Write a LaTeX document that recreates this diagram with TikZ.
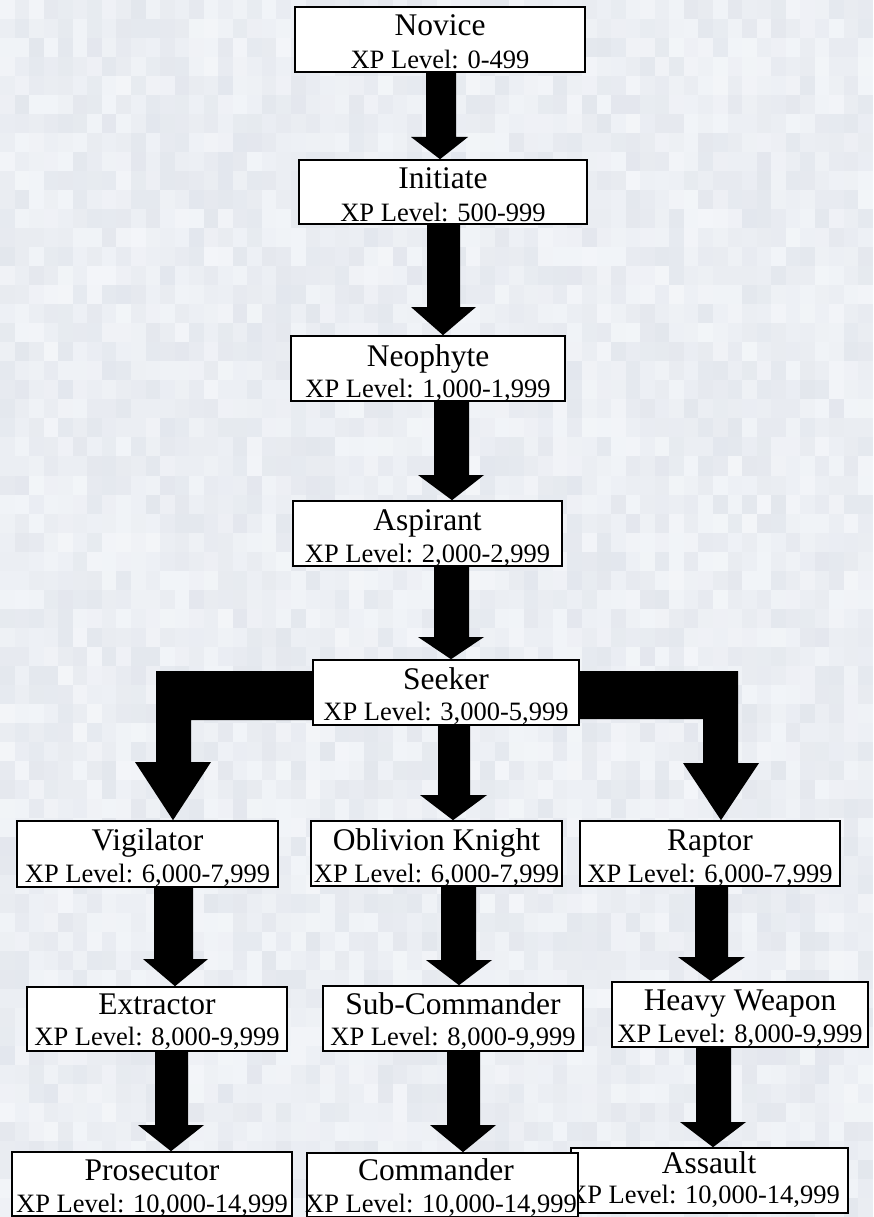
\documentclass[tikz,border=0pt]{standalone}
\usepackage{fontspec}
\setmainfont{Liberation Serif}
\usetikzlibrary{calc}
\definecolor{bgdark}{RGB}{224,228,235}
\definecolor{bglight}{RGB}{246,248,251}
\tikzset{
  rbox/.style={draw=black, fill=white, line width=1.6pt, inner sep=0pt, rectangle},
  ttl/.style={anchor=base, inner sep=0pt, font=\fontsize{31.5pt}{34pt}\selectfont},
  xpl/.style={anchor=base, inner sep=0pt, font=\fontsize{26.5pt}{29pt}\selectfont},
  arrowfill/.style={fill=black}
}
% #1 from, #2 to, #3 shaft left, #4 shaft right, #5 head left, #6 head right, #7 head start y (px), #8 tip x
\newcommand\blockarrow[8]{%
  \fill[arrowfill] let \p1=(#1.south), \p2=(#2.north) in
    (#3pt,\y1) -- (#4pt,\y1) -- (#4pt,-#7pt) -- (#6pt,-#7pt) -- (#8pt,\y2)
    -- (#5pt,-#7pt) -- (#3pt,-#7pt) -- cycle;
}
\begin{document}
\begin{tikzpicture}[x=1pt,y=-1pt]
\useasboundingbox (0,0) rectangle (873,1217);
% pixelated background
\begin{scope}
\clip (0,0) rectangle (873,1217);
\fill[bgdark!50!bglight] (0,0) rectangle (873,1217);
\pgfmathsetseed{7}
\foreach \i in {0,...,59}{
  \foreach \j in {0,...,63}{
    \pgfmathrandominteger{\bgmix}{15}{85}
    \fill[bgdark!\bgmix!bglight] (\i*14.55,\j*19.02) rectangle ++(14.7,19.2);
  }
}
\end{scope}

% boxes
\node[rbox, minimum width=290pt, minimum height=65pt] (novice) at (440,39.5) {};
\node[ttl] (novice-t) at (440,36) {Novice};
\node[xpl] (novice-x) at (440,69) {XP Level: 0-499};

\node[rbox, minimum width=288pt, minimum height=64pt] (initiate) at (443,192) {};
\node[ttl] (initiate-t) at (443,189) {Initiate};
\node[xpl] (initiate-x) at (443,221) {XP Level: 500-999};

\node[rbox, minimum width=274pt, minimum height=65pt] (neophyte) at (428,368.5) {};
\node[ttl] (neophyte-t) at (428,366) {Neophyte};
\node[xpl] (neophyte-x) at (428,397) {XP Level: 1,000-1,999};

\node[rbox, minimum width=269pt, minimum height=65pt] (aspirant) at (427.5,533.5) {};
\node[ttl] (aspirant-t) at (427.5,530) {Aspirant};
\node[xpl] (aspirant-x) at (427.5,562) {XP Level: 2,000-2,999};

\node[rbox, minimum width=266pt, minimum height=65pt] (seeker) at (446,692.5) {};
\node[ttl] (seeker-t) at (446,689) {Seeker};
\node[xpl] (seeker-x) at (446,720) {XP Level: 3,000-5,999};

\node[rbox, minimum width=261pt, minimum height=66pt] (vigilator) at (147.5,854) {};
\node[ttl] (vigilator-t) at (147.5,850) {Vigilator};
\node[xpl] (vigilator-x) at (147.5,882) {XP Level: 6,000-7,999};

\node[rbox, minimum width=251pt, minimum height=65pt] (oblivion) at (436.5,853.5) {};
\node[ttl] (oblivion-t) at (436.5,850) {Oblivion Knight};
\node[xpl] (oblivion-x) at (436.5,882) {XP Level: 6,000-7,999};

\node[rbox, minimum width=260pt, minimum height=65pt] (raptor) at (710,853.5) {};
\node[ttl] (raptor-t) at (710,850) {Raptor};
\node[xpl] (raptor-x) at (710,882) {XP Level: 6,000-7,999};

\node[rbox, minimum width=260pt, minimum height=64pt] (extractor) at (157,1019) {};
\node[ttl] (extractor-t) at (157,1014) {Extractor};
\node[xpl] (extractor-x) at (157,1045) {XP Level: 8,000-9,999};

\node[rbox, minimum width=260pt, minimum height=65pt] (subcmd) at (453,1018.5) {};
\node[ttl] (subcmd-t) at (453,1014) {Sub-Commander};
\node[xpl] (subcmd-x) at (453,1045) {XP Level: 8,000-9,999};

\node[rbox, minimum width=256pt, minimum height=65pt] (heavy) at (740,1014.5) {};
\node[ttl] (heavy-t) at (740,1010) {Heavy Weapon};
\node[xpl] (heavy-x) at (740,1042) {XP Level: 8,000-9,999};

\node[rbox, minimum width=280pt, minimum height=64pt] (prosecutor) at (152,1184) {};
\node[ttl] (prosecutor-t) at (152,1180) {Prosecutor};
\node[xpl] (prosecutor-x) at (152,1212) {XP Level: 10,000-14,999};

\node[rbox, minimum width=277pt, minimum height=65pt] (assault) at (709.5,1180.5) {};
\node[ttl] (assault-t) at (709,1173) {Assault};
\node[xpl] (assault-x) at (704,1203) {XP Level: 10,000-14,999};

\node[rbox, minimum width=271pt, minimum height=64pt] (commander) at (442.5,1185) {};
\node[ttl] (commander-t) at (436,1180) {Commander};
\node[xpl] (commander-x) at (441,1212) {XP Level: 10,000-14,999};

% straight block arrows
\blockarrow{novice}{initiate}{426}{456}{411}{468}{137}{440}
\blockarrow{initiate}{neophyte}{427}{460}{411}{476}{307}{443}
\blockarrow{neophyte}{aspirant}{434}{469}{418}{484}{475}{452}
\blockarrow{aspirant}{seeker}{434}{469}{418}{484}{637}{451}
\blockarrow{seeker}{oblivion}{438}{470}{420}{487}{795}{453}
\blockarrow{vigilator}{extractor}{154}{193}{143}{208}{959}{175}
\blockarrow{oblivion}{subcmd}{441}{476}{426}{492}{960}{459}
\blockarrow{raptor}{heavy}{695}{728}{678}{745}{957}{711}
\blockarrow{extractor}{prosecutor}{155}{188}{138}{204}{1125}{171}
\blockarrow{subcmd}{commander}{447}{480}{430}{496}{1125}{463}
\blockarrow{heavy}{assault}{696}{731}{680}{746}{1122}{713}

% elbow block arrows from Seeker
\fill[arrowfill] let \p1=(seeker.west), \p2=(vigilator.north) in
  (\x1,-671pt) -- (156pt,-671pt) -- (156pt,-762pt) -- (135pt,-762pt) -- (173pt,\y2)
  -- (211pt,-762pt) -- (191pt,-762pt) -- (191pt,-720pt) -- (\x1,-720pt) -- cycle;
\fill[arrowfill] let \p1=(seeker.east), \p2=(raptor.north) in
  (\x1,-671pt) -- (738pt,-671pt) -- (738pt,-763pt) -- (759pt,-763pt) -- (721pt,\y2)
  -- (683pt,-763pt) -- (703pt,-763pt) -- (703pt,-719pt) -- (\x1,-719pt) -- cycle;
\end{tikzpicture}
\end{document}
